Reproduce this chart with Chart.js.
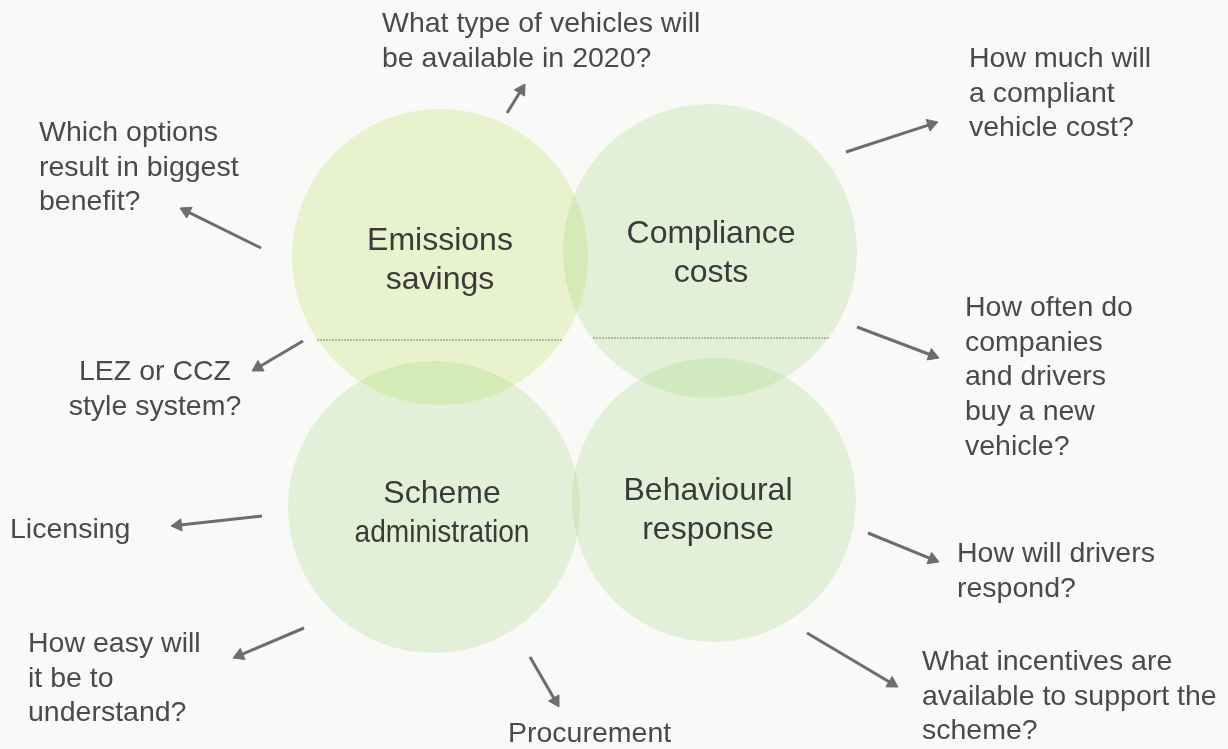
<!DOCTYPE html>
<html>
<head>
<meta charset="utf-8">
<script src="https://cdn.jsdelivr.net/npm/chart.js@4.4.1/dist/chart.umd.min.js"></script>
<style>
  html, body { margin: 0; padding: 0; background: #f9f9f7; }
  canvas { display: block; }
</style>
</head>
<body>
<canvas id="diagram" width="1228" height="749"></canvas>
<script>
// four overlapping themes
const circleLabels = [['Emissions', 'savings'], ['Compliance', 'costs'], ['Scheme', 'administration'], ['Behavioural', 'response']];
const circleX = [440, 710, 434, 714];
const circleY = [257, 251, 507, 500];
const circleR = [148, 147, 146, 142];
const circleColors = ['rgba(164, 214, 40, 0.2)', 'rgba(134, 204, 90, 0.2)', 'rgba(134, 204, 90, 0.2)', 'rgba(134, 204, 90, 0.2)'];
const circleTextX = [440, 711, 442, 708];
const circleTextY = [250, 243, 503, 500];
const circleTextWidth = [null, null, 175, null];

// questions round the outside
const questions = [
  ['What type of vehicles will', 'be available in 2020?'],
  ['Which options', 'result in biggest', 'benefit?'],
  ['LEZ or CCZ', 'style system?'],
  ['How much will', 'a compliant', 'vehicle cost?'],
  ['How often do', 'companies', 'and drivers', 'buy a new', 'vehicle?'],
  ['Licensing'],
  ['How easy will', 'it be to', 'understand?'],
  ['Procurement'],
  ['How will drivers', 'respond?'],
  ['What incentives are', 'available to support the', 'scheme?']
];
const questionX = [382, 39, 155, 969, 965, 10, 28, 508, 957, 922];
const questionY = [32, 141, 380, 67, 316, 538, 652, 742, 562, 670];
const questionAlign = ['left', 'left', 'center', 'left', 'left', 'left', 'left', 'left', 'left', 'left'];

// arrows: tail -> tip
const arrowFromX = [507, 261, 303, 846, 857, 262, 304, 530, 868, 807];
const arrowFromY = [113, 248, 341, 152, 327, 516, 628, 657, 533, 633];
const arrowToX = [525, 180, 252, 938, 939, 171, 233, 559, 939, 898];
const arrowToY = [84, 208, 371, 122, 358, 526, 658, 707, 562, 687];

// dotted rules across the top pair
const ruleX = [[317, 562], [593, 830]];
const ruleY = [340, 338];

const HEAD = 7;
const fontFamily = '"Liberation Sans", Arial, sans-serif';

const arrowSets = arrowFromX.map((fx, i) => {
  const dx = arrowToX[i] - fx;
  const dy = arrowToY[i] - arrowFromY[i];
  const len = Math.sqrt(dx * dx + dy * dy);
  const angle = Math.atan2(dx, -dy) * 180 / Math.PI;
  return {
    type: 'scatter',
    showLine: true,
    order: 1,
    data: [
      { x: fx, y: arrowFromY[i] },
      { x: arrowToX[i] - dx / len * HEAD, y: arrowToY[i] - dy / len * HEAD }
    ],
    borderColor: '#6d6d6d',
    borderWidth: 3,
    pointRadius: [0, HEAD],
    pointStyle: 'triangle',
    rotation: [0, angle],
    pointBackgroundColor: '#6d6d6d',
    pointBorderColor: '#6d6d6d',
    pointBorderWidth: 1,
    clip: false
  };
});

const ruleSets = ruleY.map((y, i) => ({
  type: 'scatter',
  showLine: true,
  order: 2,
  data: [{ x: ruleX[i][0], y: y }, { x: ruleX[i][1], y: y }],
  borderColor: 'rgba(95, 100, 85, 0.8)',
  borderWidth: 1,
  borderDash: [2, 1],
  pointRadius: 0
}));

const textPlugin = {
  id: 'diagramText',
  afterDatasetsDraw(chart) {
    const { ctx, scales: { x, y } } = chart;
    ctx.save();
    ctx.textBaseline = 'alphabetic';

    ctx.fillStyle = '#3a3a3a';
    ctx.font = '32px ' + fontFamily;
    ctx.textAlign = 'center';
    circleLabels.forEach((lines, i) => {
      lines.forEach((t, j) => {
        const px = x.getPixelForValue(circleTextX[i]);
        const py = y.getPixelForValue(circleTextY[i] + j * 38.5);
        if (j === 1 && circleTextWidth[i]) ctx.fillText(t, px, py, circleTextWidth[i]);
        else ctx.fillText(t, px, py);
      });
    });

    ctx.fillStyle = '#4a4a4a';
    ctx.font = '28.5px ' + fontFamily;
    questions.forEach((lines, i) => {
      ctx.textAlign = questionAlign[i];
      lines.forEach((t, j) => {
        ctx.fillText(t, x.getPixelForValue(questionX[i]), y.getPixelForValue(questionY[i] + j * 34.7));
      });
    });
    ctx.restore();
  }
};

new Chart(document.getElementById('diagram').getContext('2d'), {
  type: 'bubble',
  data: {
    datasets: [
      ...arrowSets,
      ...ruleSets,
      {
        type: 'bubble',
        order: 3,
        data: circleX.map((cx, i) => ({ x: cx, y: circleY[i], r: circleR[i] })),
        backgroundColor: circleColors,
        borderWidth: 0,
        clip: false
      }
    ]
  },
  options: {
    responsive: false,
    animation: false,
    events: [],
    layout: { padding: 0, autoPadding: false },
    plugins: {
      legend: { display: false },
      tooltip: { enabled: false }
    },
    scales: {
      x: { type: 'linear', min: 0, max: 1228, display: false },
      y: { type: 'linear', min: 0, max: 749, reverse: true, display: false }
    }
  },
  plugins: [textPlugin]
});
</script>
</body>
</html>
